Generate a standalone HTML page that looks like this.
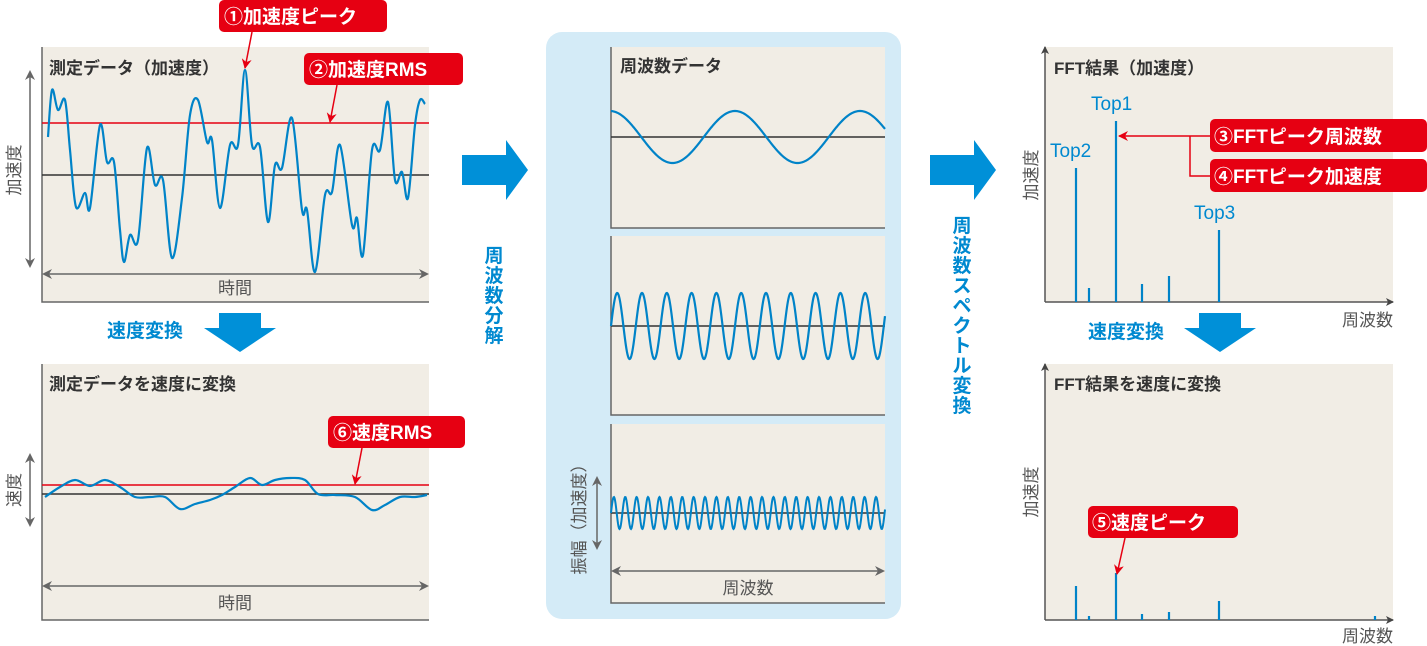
<!DOCTYPE html>
<html><head><meta charset="utf-8"><style>
body{margin:0;background:#fff;}
svg{display:block;font-family:"Liberation Sans","Noto Sans CJK JP",sans-serif;}
.t{font-size:17px;font-weight:bold;fill:#333;}
.g{font-size:17px;fill:#555;}
.b{font-size:19px;font-weight:bold;fill:#0089d0;}
.w{font-size:19px;font-weight:bold;fill:#fff;}
.tp{font-size:19px;fill:#0089d0;}
</style></head><body>
<svg id="s" width="1427" height="646" viewBox="0 0 1427 646" xmlns="http://www.w3.org/2000/svg">
<defs>
<marker id="ag" markerWidth="10" markerHeight="10" refX="8" refY="5" orient="auto-start-reverse" markerUnits="userSpaceOnUse"><path d="M0,0 L10,5 L0,10 L3,5z" fill="#666"/></marker>
<marker id="ar" markerWidth="10" markerHeight="10" refX="9" refY="5" orient="auto" markerUnits="userSpaceOnUse"><path d="M0,0 L10,5 L0,10 L3,5z" fill="#e60012"/></marker>
<marker id="ak" markerWidth="8" markerHeight="8" refX="7" refY="4" orient="auto" markerUnits="userSpaceOnUse"><path d="M0,0 L8,4 L0,8 L2,4z" fill="#444"/></marker>
</defs>
<rect x="546" y="32" width="355" height="587" rx="16" fill="#d4ebf7"/>
<g fill="#f1ede5">
<rect x="42" y="47" width="387" height="255"/>
<rect x="42" y="364" width="387" height="256"/>
<rect x="611" y="47" width="274" height="181"/>
<rect x="611" y="236" width="274" height="179"/>
<rect x="611" y="424" width="274" height="179"/>
<rect x="1045" y="47" width="348" height="255"/>
<rect x="1045" y="364" width="348" height="256"/>
</g>
<g stroke="#666" stroke-width="1.5" fill="none">
<path d="M42,47 V302 H429"/><path d="M42,364 V620 H429"/>
<path d="M611,47 V228 H885"/><path d="M611,236 V415 H885"/><path d="M611,424 V603 H885"/>
</g>
<g stroke="#555" stroke-width="1.5" fill="none">
<path d="M1045,302 V47" marker-end="url(#ak)"/><path d="M1045,302 H1393" marker-end="url(#ak)"/>
<path d="M1045,620 V364" marker-end="url(#ak)"/><path d="M1045,620 H1393" marker-end="url(#ak)"/>
</g>
<text class="t" x="49" y="74">測定データ（加速度）</text>
<text class="t" x="49" y="390">測定データを速度に変換</text>
<text class="t" x="620" y="72">周波数データ</text>
<text class="t" x="1054" y="74">FFT結果（加速度）</text>
<text class="t" x="1054" y="390">FFT結果を速度に変換</text>
<line x1="42" y1="123" x2="429" y2="123" stroke="#e60012" stroke-width="1.5"/>
<line x1="42" y1="175" x2="429" y2="175" stroke="#333" stroke-width="1.5"/>
<path id="w1" fill="none" stroke="#0083c8" stroke-width="2.2"/>
<g stroke="#666" stroke-width="1.5" fill="none">
<line x1="44" y1="274" x2="427" y2="274" marker-start="url(#ag)" marker-end="url(#ag)"/>
<line x1="30" y1="72" x2="30" y2="266" marker-start="url(#ag)" marker-end="url(#ag)"/>
<line x1="44" y1="586" x2="427" y2="586" marker-start="url(#ag)" marker-end="url(#ag)"/>
<line x1="30" y1="455" x2="30" y2="525" marker-start="url(#ag)" marker-end="url(#ag)"/>
<line x1="613" y1="571" x2="883" y2="571" marker-start="url(#ag)" marker-end="url(#ag)"/>
<line x1="597" y1="478" x2="597" y2="548" marker-start="url(#ag)" marker-end="url(#ag)"/>
</g>
<text class="g" x="235" y="294" text-anchor="middle">時間</text>
<text class="g" x="235" y="609" text-anchor="middle">時間</text>
<text class="g" x="748" y="594" text-anchor="middle">周波数</text>
<text class="g" transform="translate(20,170) rotate(-90)" text-anchor="middle">加速度</text>
<text class="g" transform="translate(20,490) rotate(-90)" text-anchor="middle">速度</text>
<text class="g" transform="translate(585,515) rotate(-90)" text-anchor="middle">振幅（加速度）</text>
<text class="g" transform="translate(1037,175) rotate(-90)" text-anchor="middle">加速度</text>
<text class="g" transform="translate(1037,492) rotate(-90)" text-anchor="middle">加速度</text>
<text class="g" x="1393" y="326" text-anchor="end">周波数</text>
<text class="g" x="1393" y="642" text-anchor="end">周波数</text>
<line x1="42" y1="485" x2="429" y2="485" stroke="#e60012" stroke-width="1.5"/>
<line x1="42" y1="494" x2="429" y2="494" stroke="#333" stroke-width="1.5"/>
<path id="w2" fill="none" stroke="#0083c8" stroke-width="2.2"/>
<line x1="611" y1="137" x2="885" y2="137" stroke="#333" stroke-width="1.5"/>
<line x1="611" y1="326" x2="885" y2="326" stroke="#333" stroke-width="1.5"/>
<line x1="611" y1="513" x2="885" y2="513" stroke="#333" stroke-width="1.5"/>
<path id="s1" fill="none" stroke="#0083c8" stroke-width="2.2"/>
<path id="s2" fill="none" stroke="#0083c8" stroke-width="2.2"/>
<path id="s3" fill="none" stroke="#0083c8" stroke-width="2"/>
<g stroke="#0083c8" stroke-width="2.2">
<line x1="1076" y1="302" x2="1076" y2="168"/><line x1="1089" y1="302" x2="1089" y2="288"/>
<line x1="1116" y1="302" x2="1116" y2="121"/><line x1="1142" y1="302" x2="1142" y2="284"/>
<line x1="1169" y1="302" x2="1169" y2="276"/><line x1="1219" y1="302" x2="1219" y2="230"/>
<line x1="1076" y1="620" x2="1076" y2="586"/><line x1="1089" y1="620" x2="1089" y2="616"/>
<line x1="1116" y1="620" x2="1116" y2="573"/><line x1="1142" y1="620" x2="1142" y2="614"/>
<line x1="1169" y1="620" x2="1169" y2="612"/><line x1="1219" y1="620" x2="1219" y2="601"/>
<line x1="1375" y1="620" x2="1375" y2="616"/>
</g>
<text class="tp" x="1091" y="110">Top1</text>
<text class="tp" x="1050" y="157">Top2</text>
<text class="tp" x="1194" y="219">Top3</text>
<g fill="#0090d8">
<path d="M462,155 H506 V140 L528,170 L506,200 V185 H462z"/>
<path d="M930,155 H974 V140 L996,170 L974,200 V185 H930z"/>
<path d="M219,313 H261 V328 H276 L240,352 L204,328 H219z"/>
<path d="M1199,313 H1241 V328 H1256 L1220,352 L1184,328 H1199z"/>
</g>
<text class="b" x="107" y="337">速度変換</text>
<text class="b" x="1088" y="338">速度変換</text>
<g class="b" text-anchor="middle">
<text x="494" y="262">周</text><text x="494" y="282">波</text><text x="494" y="302">数</text><text x="494" y="322">分</text><text x="494" y="342">解</text>
<text x="962" y="232">周</text><text x="962" y="252">波</text><text x="962" y="272">数</text><text x="962" y="292">ス</text><text x="962" y="312">ペ</text><text x="962" y="332">ク</text><text x="962" y="352">ト</text><text x="962" y="372">ル</text><text x="962" y="392">変</text><text x="962" y="412">換</text>
</g>
<g fill="#e60012">
<rect x="219" y="0" width="168" height="32" rx="5"/>
<rect x="304" y="53" width="159" height="32" rx="5"/>
<rect x="1210" y="119" width="217" height="33" rx="5"/>
<rect x="1210" y="159" width="217" height="33" rx="5"/>
<rect x="328" y="416" width="137" height="32" rx="5"/>
<rect x="1088" y="506" width="150" height="32" rx="5"/>
</g>
<g class="w">
<text x="224" y="23">①加速度ピーク</text>
<text x="309" y="76">②加速度RMS</text>
<text x="1214" y="143">③FFTピーク周波数</text>
<text x="1214" y="183">④FFTピーク加速度</text>
<text x="333" y="439">⑥速度RMS</text>
<text x="1092" y="529">⑤速度ピーク</text>
</g>
<g stroke="#e60012" stroke-width="1.5" fill="none">
<line x1="252" y1="32" x2="245" y2="68" marker-end="url(#ar)"/>
<line x1="337" y1="85" x2="330" y2="122" marker-end="url(#ar)"/>
<line x1="362" y1="448" x2="355" y2="484" marker-end="url(#ar)"/>
<line x1="1125" y1="538" x2="1117" y2="574" marker-end="url(#ar)"/>
<line x1="1210" y1="136" x2="1119" y2="136" marker-end="url(#ar)"/>
<path d="M1190,136 V176 H1210"/>
</g>
</svg>
<script>
function cr(p){var d="M"+p[0][0]+","+p[0][1];for(var i=0;i<p.length-1;i++){var a=p[i-1]||p[i],b=p[i],c=p[i+1],e=p[i+2]||c;d+=" C"+(b[0]+(c[0]-a[0])/6).toFixed(1)+","+(b[1]+(c[1]-a[1])/6).toFixed(1)+" "+(c[0]-(e[0]-b[0])/6).toFixed(1)+","+(c[1]-(e[1]-b[1])/6).toFixed(1)+" "+c[0]+","+c[1];}return d;}
var p1=[[48,137],[52,90],[58,110],[65,100],[70,150],[76,207],[85,193],[90,208],[100,125],[107,162],[114,162],[120,230],[124,262],[130,235],[138,240],[147,148],[155,185],[163,180],[172,258],[182,198],[190,115],[198,100],[207,142],[212,140],[220,208],[230,145],[238,145],[245,70],[252,145],[260,147],[268,222],[275,165],[282,168],[292,118],[302,210],[307,210],[315,272],[325,195],[332,192],[340,145],[352,225],[357,218],[363,255],[372,150],[380,150],[388,102],[395,180],[402,172],[408,198],[415,125],[420,100],[425,104]];
var p2=[[45,497],[60,487],[75,480],[90,486],[105,480],[120,487],[135,497],[150,497],[165,497],[180,509],[195,504],[210,500],[222,495],[235,487],[250,478],[262,485],[275,480],[290,478],[305,480],[318,494],[335,495],[355,497],[372,510],[385,505],[400,497],[415,497],[427,495]];
document.getElementById("w1").setAttribute("d",cr(p1));
document.getElementById("w2").setAttribute("d",cr(p2));
function sn(id,y0,A,T,ph){var d="";for(var x=611;x<=885;x+=0.5){var y=y0-A*Math.sin(2*Math.PI*(x-611)/T+ph);d+=(d?" L":"M")+x+","+y.toFixed(2);}document.getElementById(id).setAttribute("d",d);}
sn("s1",137,26,125,Math.PI/2+0.05);
sn("s2",326,33,24.8,0);
sn("s3",513,16,11.4,0);
</script>
</body></html>
